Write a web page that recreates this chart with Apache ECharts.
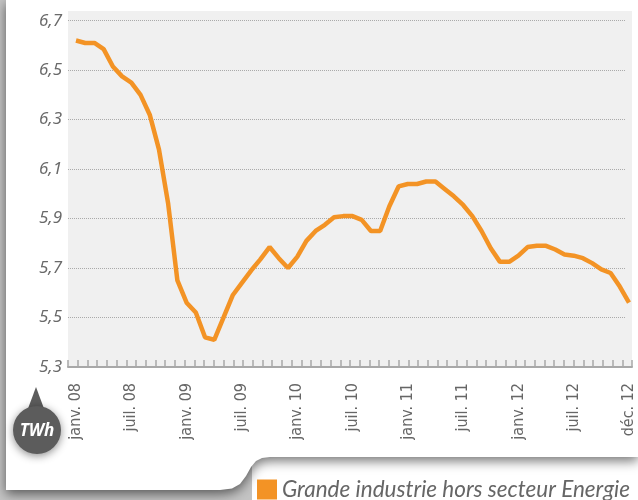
<!DOCTYPE html>
<html>
<head>
<meta charset="utf-8">
<script src="https://cdn.jsdelivr.net/npm/echarts@6/dist/echarts.min.js"></script>
<style>
  html, body { margin: 0; padding: 0; background: #c4c4c4; }
  #chart { width: 638px; height: 500px; }
</style>
</head>
<body>
<div id="chart"></div>
<script>
// consommation mensuelle (TWh), janv. 08 -> déc. 12
const values = [
  6.62, 6.61, 6.61, 6.585, 6.515, 6.475, 6.45, 6.40, 6.32, 6.18,
  5.96, 5.65, 5.56, 5.52, 5.42, 5.41, 5.50, 5.59, 5.64, 5.69,
  5.735, 5.785, 5.74, 5.70, 5.745, 5.81, 5.85, 5.875, 5.905, 5.91,
  5.91, 5.895, 5.85, 5.85, 5.95, 6.03, 6.04, 6.04, 6.05, 6.05,
  6.02, 5.99, 5.955, 5.91, 5.85, 5.78, 5.725, 5.725, 5.75, 5.785,
  5.79, 5.79, 5.775, 5.755, 5.75, 5.74, 5.72, 5.695, 5.68, 5.625,
  5.56
];
const tickLabels = [
  "janv. 08", "juil. 08", "janv. 09", "juil. 09", "janv. 10", "juil. 10",
  "janv. 11", "juil. 11", "janv. 12", "juil. 12", "déc. 12"
];
const seriesName = "Grande industrie hors secteur Energie";

// une catégorie par point, libellé tous les 6 points
const categories = values.map((v, i) => (i % 6 === 0 ? tickLabels[i / 6] : ""));

const myChart = echarts.init(document.getElementById("chart"));

// contour de la carte blanche (coin arrondi vers l'onglet de légende)
const cardShape = [
  [6, 0], [638, 0], [638, 457], [270, 457], [262, 458], [256, 461], [251, 467],
  [246, 476], [240, 484], [232, 488.5], [220, 490], [6, 490]
];

const option = {
  animation: false,
  graphic: [
    // onglet de la légende
    { type: "rect", z: -20, shape: { x: 252, y: 450, width: 386, height: 50 }, style: { fill: "#fff" } },
    // carte blanche
    {
      type: "polygon", z: -15,
      shape: { points: cardShape },
      style: { fill: "#fff", shadowBlur: 12, shadowColor: "rgba(0,0,0,0.55)", shadowOffsetY: 4 }
    },
    // fond du graphique
    { type: "rect", z: -10, shape: { x: 68, y: 11, width: 564, height: 356 }, style: { fill: "#f0f0f0" } },
    // bulle TWh
    {
      type: "group", z: 5,
      children: [
        { type: "polygon", shape: { points: [[26, 414], [36, 387], [46, 414]] }, style: { fill: "#5c5c5c" } },
        {
          type: "circle", shape: { cx: 37, cy: 430, r: 24 },
          style: { fill: "#5c5c5c", shadowBlur: 8, shadowColor: "rgba(0,0,0,0.45)", shadowOffsetY: 2 }
        },
        {
          type: "text", x: 37, y: 431,
          style: {
            text: "TWh", fill: "#fff", font: "italic bold 17px 'Open Sans'",
            align: "center", verticalAlign: "middle"
          }
        }
      ]
    }
  ],
  legend: {
    left: 257, top: 478, padding: 0,
    icon: "rect", itemWidth: 20, itemHeight: 20, itemGap: 8,
    textStyle: { fontFamily: "Lato", fontStyle: "italic", fontSize: 22.5, lineHeight: 22, color: "#666" },
    data: [seriesName]
  },
  grid: [
    // axe des graduations
    { left: 68, right: 6, top: 11, bottom: 133 },
    // axe des valeurs
    { left: 68, right: 12, top: 20.7, bottom: 133 },
    // courbe
    { left: 76, right: 9, top: 20.7, bottom: 133 }
  ],
  xAxis: [
    {
      gridIndex: 0, type: "value", min: 0, max: 58, interval: 1,
      axisLine: { lineStyle: { color: "#a8a8a8", width: 2 } },
      axisTick: { inside: true, length: 7, lineStyle: { color: "#a8a8a8", width: 1.5 } },
      axisLabel: { show: false }, splitLine: { show: false }
    },
    { gridIndex: 1, type: "value", show: false },
    {
      gridIndex: 2, type: "category", boundaryGap: false, data: categories,
      axisLine: { show: false }, axisTick: { show: false },
      axisLabel: {
        interval: 0, rotate: 90, margin: 16,
        fontFamily: "'Liberation Sans Narrow', 'DejaVu Sans Condensed', sans-serif",
        fontSize: 16, color: "#666"
      }
    }
  ],
  yAxis: [
    { gridIndex: 0, type: "value", show: false },
    {
      gridIndex: 1, type: "value", min: 5.3, max: 6.7, interval: 0.2,
      axisLine: { show: false }, axisTick: { show: false },
      axisLabel: {
        margin: 6, padding: [8, 0, 0, 0],
        fontFamily: "'Noto Sans'", fontStyle: "italic", fontSize: 17, color: "#6a6a6a",
        formatter: (v) => v.toFixed(1).replace(".", ",")
      },
      splitLine: { lineStyle: { color: "#aaa", type: "dotted", width: 1 } }
    },
    { gridIndex: 2, type: "value", min: 5.3, max: 6.7, show: false }
  ],
  series: [
    {
      name: seriesName,
      type: "line",
      xAxisIndex: 2, yAxisIndex: 2,
      data: values,
      symbol: "none",
      color: "#f39325",
      lineStyle: { width: 4.5, color: "#f39325" }
    }
  ]
};

myChart.setOption(option);
</script>
</body>
</html>
